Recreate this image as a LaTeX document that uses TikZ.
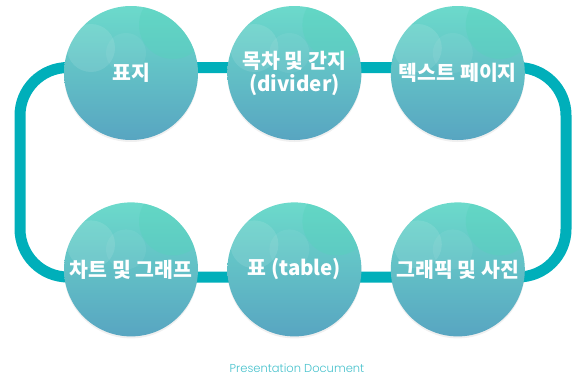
\documentclass[tikz,border=0pt]{standalone}
\usepackage{fontspec}
\newfontfamily\kofont{Noto Sans CJK KR}
\newfontfamily\enfont{Poppins}[UprightFont={* Light}]
\usetikzlibrary{positioning}
\usetikzlibrary{shadows}

\definecolor{loopteal}{HTML}{00AFBA}
\definecolor{balltop}{HTML}{6CDACB}
\definecolor{ballmid}{HTML}{6ACDD3}
\definecolor{ballbot}{HTML}{58A5C1}
\definecolor{ballglow}{HTML}{55D3BC}
\definecolor{captionteal}{HTML}{45C1CC}

\begin{document}
\begin{tikzpicture}[x=1pt,y=-1pt,
  ball/.style={circle, minimum size=134pt, inner sep=0pt,
    top color=balltop, middle color=ballmid, bottom color=ballbot,
    drop shadow={opacity=0.12, shadow xshift=0pt, shadow yshift=-2pt},
    text=white, align=center,
    font=\kofont\bfseries\fontsize{20.5}{23}\selectfont,
    path picture={
      \fill[white, opacity=0.10] ([xshift=-40pt, yshift=25pt]path picture bounding box.center) circle (24pt);
      \fill[ballglow, opacity=0.4] ([xshift=42pt, yshift=48pt]path picture bounding box.center) circle (34pt);
      \fill[white, opacity=0.06] ([xshift=-5pt, yshift=20pt]path picture bounding box.center) circle (20pt);
    }},
  loopline/.style={line width=11pt, color=loopteal, rounded corners=48pt},
  caption/.style={text=captionteal, font=\enfont\fontsize{11.5}{13}\selectfont}]

\useasboundingbox (0,0) rectangle (572,383);

% loop behind the balls
\coordinate (lt) at (20,67.5);
\coordinate (rt) at (566,67.5);
\coordinate (rb) at (566,277);
\coordinate (lb) at (20,277);
\draw[loopline] (lt) -- (rt) -- (rb) -- (lb) -- cycle;

% top row
\node[ball] (pyoji) at (131,73) {표지};
\node[ball, right=29pt of pyoji] (mokcha) {목차 및 간지\\(divider)};
\node[ball, right=29pt of mokcha] (textpage) {텍스트 페이지};

% bottom row
\node[ball, below=62pt of pyoji] (chart) {차트 및 그래프};
\node[ball, below=62pt of mokcha] (table) {표 (table)};
\node[ball, below=62pt of textpage] (graphic) {그래픽 및 사진};

% caption
\node[caption] (doc) at (297,368) {Presentation Document};
\end{tikzpicture}
\end{document}
